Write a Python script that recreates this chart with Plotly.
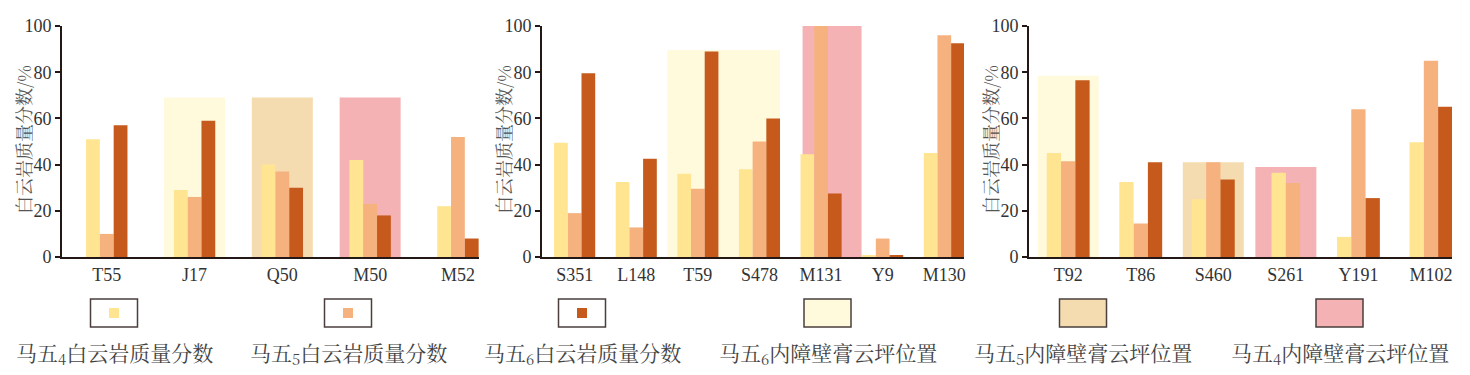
import plotly.graph_objects as go

# ---------------- data ----------------
cats1 = ["T55", "J17", "Q50", "M50", "M52"]
ma4_1 = [51, 29, 40, 42, 22]
ma5_1 = [10, 26, 37, 23, 52]
ma6_1 = [57, 59, 30, 18, 8]

cats2 = ["S351", "L148", "T59", "S478", "M131", "Y9", "M130"]
ma4_2 = [49.5, 32.5, 36, 38, 44.5, 0.6, 45]
ma5_2 = [19, 12.8, 29.5, 50, 100, 8, 96]
ma6_2 = [79.5, 42.5, 89, 60, 27.5, 0.6, 92.5]

cats3 = ["T92", "T86", "S460", "S261", "Y191", "M102"]
ma4_3 = [45, 32.5, 25, 36.5, 8.7, 49.7]
ma5_3 = [41.5, 14.5, 41, 32, 64, 85]
ma6_3 = [76.5, 41, 33.5, None, 25.5, 65]

# background zones (内障壁膏云坪位置): covered categories, height, member
bg1_cats = [["J17"], ["Q50"], ["M50"]]
bg1_heights = [69, 69, 69]
bg1_zones = ["ma6", "ma5", "ma4"]

bg2_cats = [["T59", "S478"], ["M131"]]
bg2_heights = [89.6, 100.5]
bg2_zones = ["ma6", "ma4"]

bg3_cats = [["T92"], ["S460"], ["S261"]]
bg3_heights = [78.5, 41, 39]
bg3_zones = ["ma6", "ma5", "ma4"]

series_names = ["马五<sub>4</sub>白云岩质量分数", "马五<sub>5</sub>白云岩质量分数", "马五<sub>6</sub>白云岩质量分数"]
zone_names = {"ma6": "马五<sub>6</sub>内障壁膏云坪位置",
              "ma5": "马五<sub>5</sub>内障壁膏云坪位置",
              "ma4": "马五<sub>4</sub>内障壁膏云坪位置"}
y_title = "白云岩质量分数/%"

# ---------------- style ----------------
W, H = 1470, 375
bar_colors = ["#FFE591", "#F5B27F", "#C55A1C"]
zone_colors = {"ma6": "#FFFADC", "ma5": "#F5DCB0", "ma4": "#F4B2B5"}
axis_color = "#231815"
text_color = "#333333"
serif = "Liberation Serif, Times New Roman, serif"
cjk = "Noto Serif CJK SC, Noto Sans CJK SC, sans-serif"

panels = [
    dict(cats=cats1, vals=[ma4_1, ma5_1, ma6_1], bgc=bg1_cats, bgh=bg1_heights, bgz=bg1_zones,
         px=(62, 479), rng=(-0.51, 4.24), bar_px=13.8, bg_adj=[(0, 0), (0, 0), (0, 0)]),
    dict(cats=cats2, vals=[ma4_2, ma5_2, ma6_2], bgc=bg2_cats, bgh=bg2_heights, bgz=bg2_zones,
         px=(542, 964), rng=(-0.53, 6.32), bar_px=13.7, bg_adj=[(-5, -10), (11, -2)]),
    dict(cats=cats3, vals=[ma4_3, ma5_3, ma6_3], bgc=bg3_cats, bgh=bg3_heights, bgz=bg3_zones,
         px=(1029, 1452), rng=(-0.54, 5.29), bar_px=14.3, bg_adj=[(0, 0), (0, 0), (0, 0)]),
]
bg_px = 61
y_px = (26, 257)

fig = go.Figure()
layout = dict(width=W, height=H, margin=dict(l=0, r=0, t=0, b=0, autoexpand=False),
              paper_bgcolor="white", plot_bgcolor="rgba(0,0,0,0)",
              barmode="overlay", showlegend=False)

for k, p in enumerate(panels):
    xa = "x" if k == 0 else f"x{k+1}"
    ya = "y" if k == 0 else f"y{k+1}"
    spacing = (p["px"][1] - p["px"][0]) / (p["rng"][1] - p["rng"][0])
    bw = p["bar_px"] / spacing
    idx = {c: i for i, c in enumerate(p["cats"])}

    # background zones
    for cl, h, z, adj in zip(p["bgc"], p["bgh"], p["bgz"], p["bg_adj"]):
        ids = [idx[c] for c in cl]
        center = sum(ids) / len(ids) + adj[0] / spacing
        width = (max(ids) - min(ids)) + (bg_px + adj[1]) / spacing
        fig.add_trace(go.Bar(x=[center], y=[h], width=[width], offset=[-width / 2],
                             marker=dict(color=zone_colors[z], line=dict(width=0)),
                             xaxis=xa, yaxis=ya, cliponaxis=False, hoverinfo="skip"))

    # sample bars: groups centred, missing values removed
    for s in range(3):
        xs, ys, offs = [], [], []
        for i in range(len(p["cats"])):
            present = [j for j in range(3) if p["vals"][j][i] is not None]
            if p["vals"][s][i] is None:
                continue
            pos = present.index(s)
            xs.append(i)
            ys.append(p["vals"][s][i])
            offs.append(-len(present) * bw / 2 + pos * bw)
        fig.add_trace(go.Bar(x=xs, y=ys, width=[bw] * len(xs), offset=offs,
                             marker=dict(color=bar_colors[s], line=dict(width=0)),
                             name=series_names[s], xaxis=xa, yaxis=ya, cliponaxis=False))

    xkey = "xaxis" if k == 0 else f"xaxis{k+1}"
    ykey = "yaxis" if k == 0 else f"yaxis{k+1}"
    layout[xkey] = dict(domain=[p["px"][0] / W, p["px"][1] / W], range=list(p["rng"]),
                        anchor=ya, tickmode="array", tickvals=list(range(len(p["cats"]))),
                        ticktext=p["cats"], showline=True, linecolor=axis_color, linewidth=2,
                        ticks="", showgrid=False, zeroline=False, automargin=False,
                        tickfont=dict(family=serif, size=18, color=text_color))
    layout[ykey] = dict(domain=[1 - y_px[1] / H, 1 - y_px[0] / H], range=[0, 100],
                        anchor=xa, tickmode="array", tickvals=[0, 20, 40, 60, 80, 100],
                        showline=True, linecolor=axis_color, linewidth=2,
                        ticks="outside", ticklen=5, tickwidth=1.5, tickcolor=axis_color,
                        showgrid=False, zeroline=False, automargin=False,
                        tickfont=dict(family=serif, size=18, color=text_color))

fig.update_layout(**layout)

annotations = []
shapes = []
# y titles
for p in panels:
    annotations.append(dict(text=y_title, xref="paper", yref="paper",
                            x=(p["px"][0] - 39) / W, y=1 - 140 / H, textangle=-90,
                            showarrow=False, xanchor="center", yanchor="middle",
                            font=dict(family=cjk, size=18, color="#555555")))

# legend
leg_centers = [114, 348, 582, 827.5, 1083, 1339.5]
leg_labels = series_names + [zone_names["ma6"], zone_names["ma5"], zone_names["ma4"]]
leg_fills = ["white"] * 3 + [zone_colors["ma6"], zone_colors["ma5"], zone_colors["ma4"]]
for i, (cx, lab, fill) in enumerate(zip(leg_centers, leg_labels, leg_fills)):
    shapes.append(dict(type="rect", xref="paper", yref="paper",
                       x0=(cx - 23.5) / W, x1=(cx + 23.5) / W,
                       y0=1 - 327 / H, y1=1 - 299 / H,
                       fillcolor=fill, line=dict(color="#4a3f3c", width=1.5)))
    if i < 3:
        shapes.append(dict(type="rect", xref="paper", yref="paper",
                           x0=(cx - 5) / W, x1=(cx + 5) / W,
                           y0=1 - 318 / H, y1=1 - 308 / H,
                           fillcolor=bar_colors[i], line=dict(width=0)))
    annotations.append(dict(text=lab, xref="paper", yref="paper", x=cx / W, y=1 - 353 / H,
                            showarrow=False, xanchor="center", yanchor="middle",
                            font=dict(family=cjk, size=21, color="#444444")))

fig.update_layout(annotations=annotations, shapes=shapes)
fig.write_html("out.html")
